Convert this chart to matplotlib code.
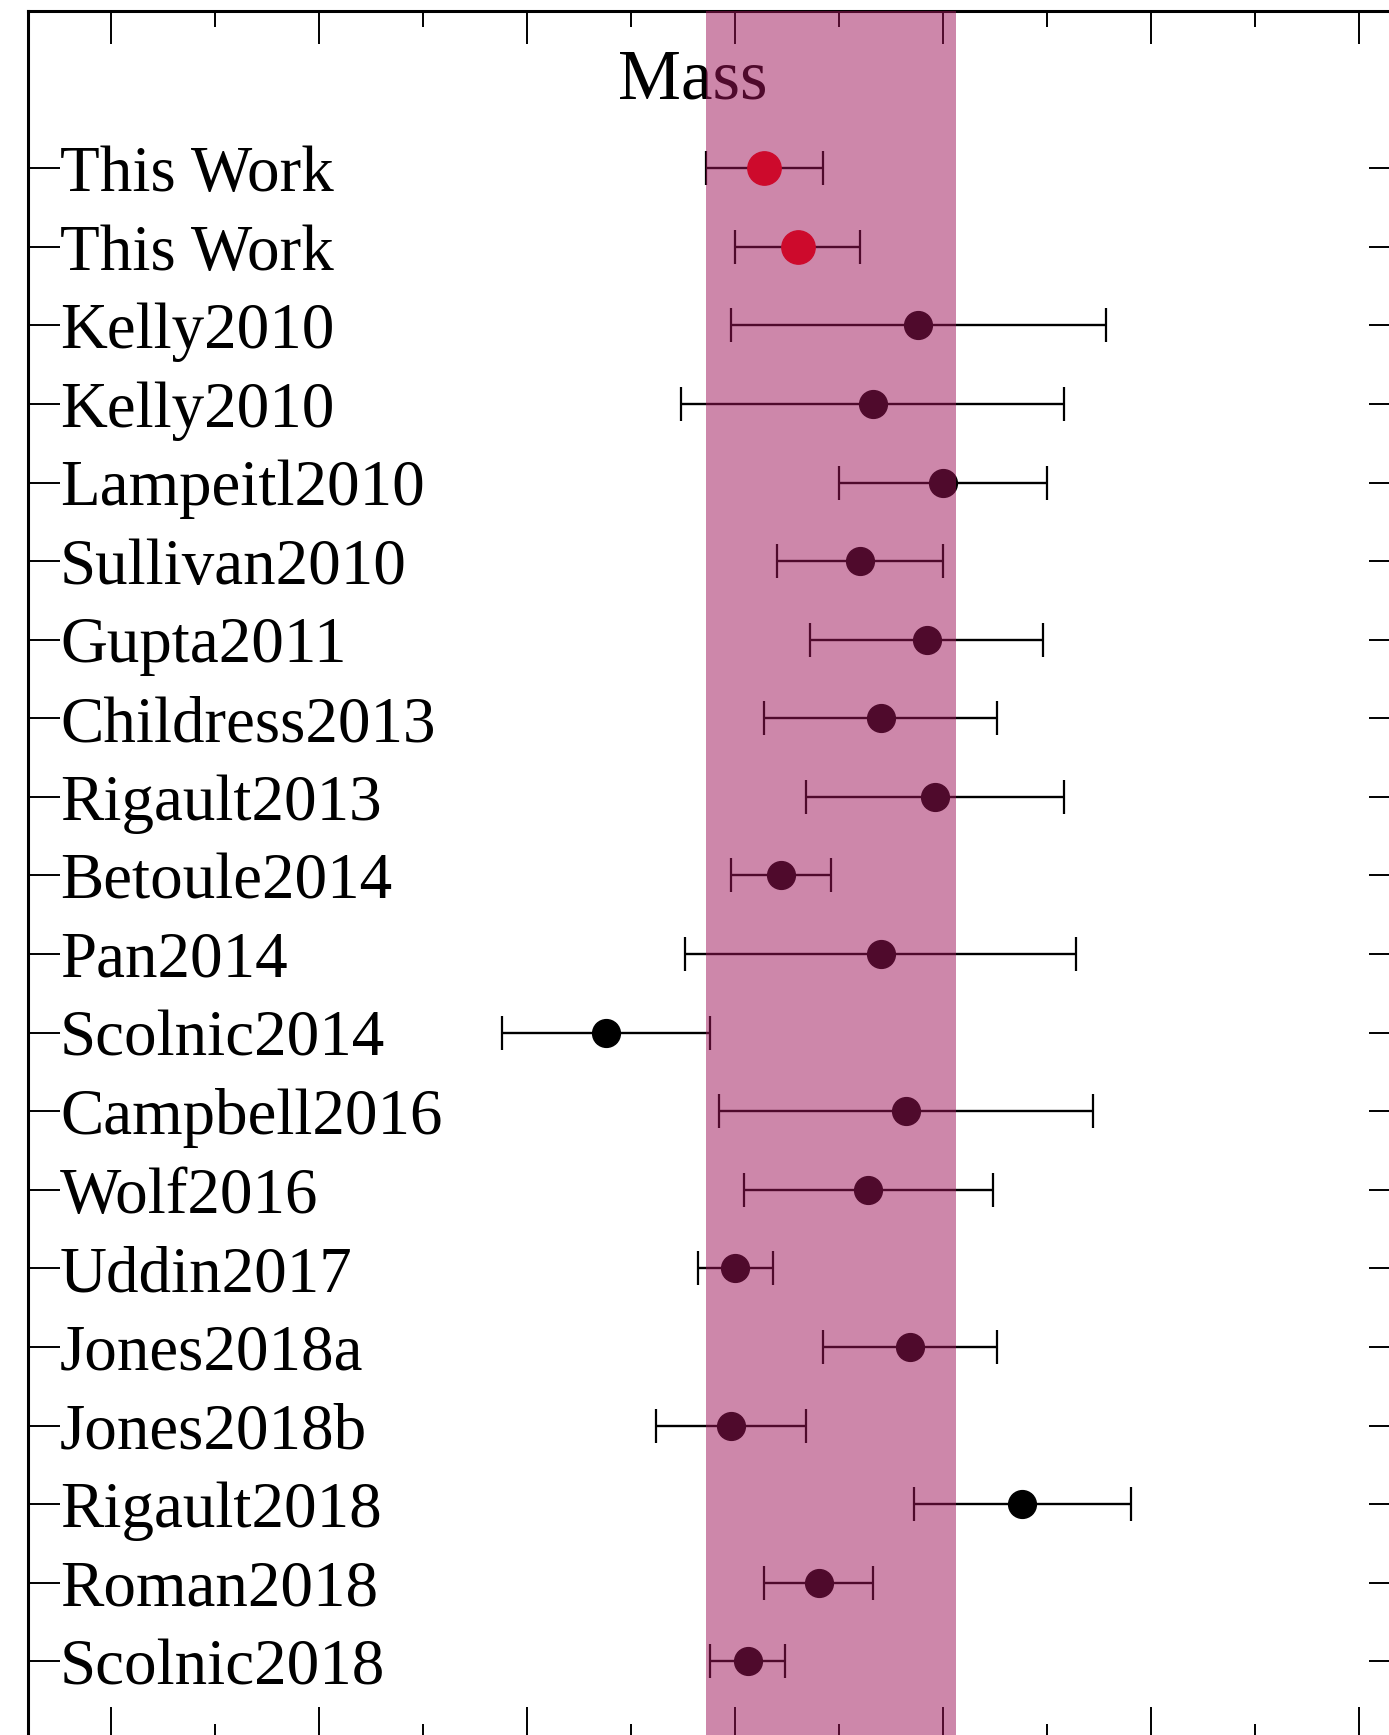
import matplotlib
matplotlib.use("Agg")
import matplotlib.pyplot as plt
import numpy as np

plt.rcParams["font.family"] = ["Liberation Serif", "DejaVu Serif"]

labels = ["This Work", "This Work", "Kelly2010", "Kelly2010", "Lampeitl2010",
          "Sullivan2010", "Gupta2011", "Childress2013", "Rigault2013",
          "Betoule2014", "Pan2014", "Scolnic2014", "Campbell2016", "Wolf2016",
          "Uddin2017", "Jones2018a", "Jones2018b", "Rigault2018", "Roman2018",
          "Scolnic2018"]
step = [0.057, 0.065, 0.094, 0.083, 0.100, 0.080, 0.096, 0.085, 0.098, 0.061,
        0.085, 0.019, 0.091, 0.082, 0.050, 0.092, 0.049, 0.119, 0.070, 0.053]
step_err = [0.014, 0.015, 0.045, 0.046, 0.025, 0.020, 0.028, 0.028, 0.031, 0.012,
            0.047, 0.025, 0.045, 0.030, 0.009, 0.021, 0.018, 0.026, 0.013, 0.009]
is_ours = [True, True] + [False] * 18

band_lo, band_hi = 0.043, 0.103

W, H = 1389, 1735
fig = plt.figure(figsize=(W / 100, H / 100), dpi=100)
# axes box runs slightly past the right and bottom edges of the canvas
ax = fig.add_axes([28 / W, 1 - 1740 / H, (1401 - 28) / W, (1740 - 11) / H])

y = np.arange(len(labels))
step = np.array(step)
step_err = np.array(step_err)
ours = np.array(is_ours)

ax.errorbar(step[~ours], y[~ours], xerr=step_err[~ours], fmt="o", color="k",
            ecolor="k", ms=20, elinewidth=1.7, capsize=12, capthick=1.6,
            zorder=3)
ax.errorbar(step[ours], y[ours], xerr=step_err[ours], fmt="o", color="red",
            ecolor="k", ms=24, elinewidth=1.7, capsize=12, capthick=1.6,
            zorder=3)

# literature range, laid over everything
ax.axvspan(band_lo, band_hi, color="#9d1458", alpha=0.51, lw=0, zorder=10,
           clip_on=False)

ax.text(0.0397, -0.89, "Mass", ha="center", va="baseline", fontsize=51,
        zorder=4)

ax.set_xlim(-0.12, 0.21)
ax.set_ylim(20.0, -2.0)
ax.set_xticks(np.arange(-0.1, 0.21, 0.05))
ax.set_xticks(np.arange(-0.075, 0.21, 0.05), minor=True)
ax.set_yticks(y)
ax.set_yticklabels(labels, fontsize=46.8)
for lab in ax.get_yticklabels():
    lab.set_horizontalalignment("left")

ax.tick_params(axis="x", which="major", direction="in", length=23.5, width=1.4,
               top=True, bottom=True, labelbottom=False)
ax.tick_params(axis="x", which="minor", direction="in", length=11.5, width=1.4,
               top=True, bottom=True)
ax.tick_params(axis="y", which="major", direction="in", length=23, width=1.4,
               left=True, right=True, pad=-23)
ax.tick_params(axis="y", which="minor", left=False, right=False)

for sp in ax.spines.values():
    sp.set_linewidth(2.2)

fig.savefig("out.png", dpi=100)
plt.close(fig)
